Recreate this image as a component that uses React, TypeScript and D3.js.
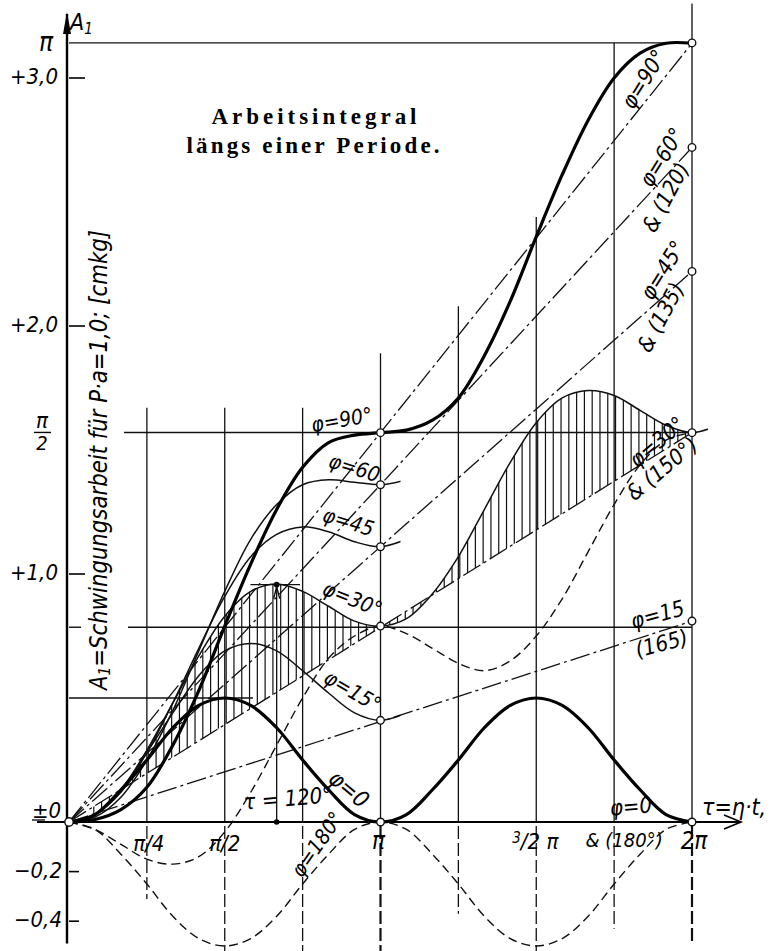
import React from 'react';
import * as d3 from 'd3';

const W = 776;
const H = 951;
const PI = Math.PI;

// curve values A1 at tau = k * 15 deg (k = 0, 1, 2 ...)
const STEP = PI / 12;
const phi90 = [0, 0.01, 0.05, 0.14, 0.31, 0.53, 0.79, 1.04, 1.26, 1.43, 1.53, 1.56, 1.57, 1.58, 1.62, 1.71, 1.88, 2.1, 2.36, 2.61, 2.83, 3.0, 3.1, 3.14, 3.14];
const phi60 = [0, 0.02, 0.1, 0.25, 0.45, 0.69, 0.93, 1.14, 1.28, 1.36, 1.38, 1.37, 1.36, 1.38];
const phi45 = [0, 0.03, 0.12, 0.28, 0.48, 0.7, 0.91, 1.07, 1.16, 1.19, 1.17, 1.13, 1.11, 1.14];
const phi30 = [0, 0.03, 0.13, 0.29, 0.48, 0.67, 0.83, 0.93, 0.96, 0.93, 0.87, 0.81, 0.79, 0.82, 0.92, 1.07, 1.26, 1.45, 1.61, 1.71, 1.74, 1.72, 1.66, 1.6, 1.57, 1.6];
const phi15 = [0, 0.03, 0.13, 0.28, 0.44, 0.59, 0.69, 0.72, 0.69, 0.61, 0.52, 0.44, 0.41, 0.44];
const phi0 = [0, 0.03, 0.13, 0.25, 0.38, 0.47, 0.5, 0.47, 0.38, 0.25, 0.13, 0.03, 0, 0.03, 0.13, 0.25, 0.38, 0.47, 0.5, 0.47, 0.38, 0.25, 0.13, 0.03, 0];
const phi150 = [0, -0.03, -0.09, -0.15, -0.17, -0.14, -0.04, 0.12, 0.31, 0.5, 0.66, 0.75, 0.79, 0.76, 0.7, 0.64, 0.61, 0.65, 0.75, 0.9, 1.09, 1.28, 1.44, 1.54, 1.57];
const phi180 = [0, -0.03, -0.13, -0.25, -0.38, -0.47, -0.5, -0.47, -0.38, -0.25, -0.13, -0.03, 0, -0.03, -0.13, -0.25, -0.38, -0.47, -0.5, -0.47, -0.38, -0.25, -0.13, -0.03, 0];

// straight mean lines (dash-dot) from the origin, value reached at tau = 2pi
const meanPhis = [90, 60, 45, 30, 15];
const meanEnds = [3.14, 2.72, 2.22, 1.57, 0.81];

// values marked with small circles at tau = pi
const atPi = [1.57, 1.36, 1.11, 0.79, 0.41, 0];

// y axis
const yTicks = [3, 2, 1, 0, -0.2, -0.4];
const yTickLabels = ['+3,0', '+2,0', '+1,0', '±0', '−0,2', '−0,4'];

// vertical construction lines
const gridTaus = [PI / 4, PI / 2, (3 * PI) / 4, PI, (5 * PI) / 4, (3 * PI) / 2, (7 * PI) / 4, 2 * PI];
const gridTops = [1.67, 1.67, 1.67, 1.89, 2.08, 2.44, PI, 3.3];
const gridBottoms = [-0.31, -0.52, -0.52, -0.52, -0.37, -0.52, -0.43, -0.48];

const LBL = "'Liberation Sans Narrow','DejaVu Sans Condensed','Liberation Sans',sans-serif";
const SERIF = "'Liberation Serif','DejaVu Serif',serif";

export default function App() {
  const x = d3.scaleLinear().domain([0, 2 * PI]).range([69, 692]);
  const y = d3.scaleLinear().domain([0, 1]).range([822, 574]);

  const curve = (vals: number[]) =>
    d3.line<number>()
      .x((_, i) => x(i * STEP))
      .y(d => y(d))
      .curve(d3.curveCatmullRom.alpha(0.5))(vals) || '';

  const meanLine = (end: number) =>
    d3.line<[number, number]>().x(d => x(d[0])).y(d => y(d[1]))([[0, 0], [2 * PI, end]]) || '';

  const mean30 = meanEnds[3];
  const hatchArea = d3.area<number>()
    .x((_, i) => x(i * STEP))
    .y0((_, i) => y((mean30 * i * STEP) / (2 * PI)))
    .y1(d => y(d))
    .curve(d3.curveCatmullRom.alpha(0.5))(phi30.slice(0, 25)) || '';
  const hatchTaus = d3.range(0.25, 2 * PI, (2 * PI) / 80);

  const thin = { fill: 'none', stroke: '#111', strokeWidth: 1.5 };
  const thick = { fill: 'none', stroke: '#000', strokeWidth: 3.2 };
  const dashDot = { fill: 'none', stroke: '#111', strokeWidth: 1.3, strokeDasharray: '20 4 3 4' };
  const dashed = { fill: 'none', stroke: '#111', strokeWidth: 1.4, strokeDasharray: '9 5' };

  const lbl = (t: string, cx: number, cy: number, rot: number, size = 21) => (
    <text
      key={t + cx + cy}
      transform={`translate(${cx},${cy}) rotate(${rot})`}
      textAnchor="middle"
      dominantBaseline="middle"
      fontFamily={LBL}
      fontStyle="italic"
      fontSize={size}
    >
      {t}
    </text>
  );

  return (
    <svg width={W} height={H} style={{ position: 'absolute', left: 0, top: 0, background: '#fff' }} fontFamily={LBL}>
      <defs>
        <clipPath id="hatch">
          <path d={hatchArea} />
        </clipPath>
        <clipPath id="stubPi">
          <rect x={0} y={0} width={x(PI) + 20} height={H} />
        </clipPath>
        <clipPath id="stub2Pi">
          <rect x={0} y={0} width={x(2 * PI) + 16} height={H} />
        </clipPath>
      </defs>
      <rect width={W} height={H} fill="#fff" />

      {/* vertical construction lines, dashed below the axis */}
      {gridTaus.map((t, i) => (
        <g key={'g' + i}>
          <line x1={x(t)} x2={x(t)} y1={y(gridTops[i])} y2={y(0)} stroke="#111" strokeWidth={1.3} />
          <line
            x1={x(t)} x2={x(t)} y1={y(0) + 4} y2={y(gridBottoms[i])}
            stroke="#111"
            strokeWidth={t === PI || t === 2 * PI ? 2.2 : 1.3}
            strokeDasharray="13 4"
          />
        </g>
      ))}

      {/* horizontal construction lines */}
      <line x1={x(0)} x2={x(2 * PI)} y1={y(PI)} y2={y(PI)} stroke="#111" strokeWidth={1.4} />
      <line x1={x(0.555)} x2={x(2 * PI)} y1={y(PI / 2)} y2={y(PI / 2)} stroke="#111" strokeWidth={1.4} />
      <line x1={x(0.595)} x2={x(2 * PI)} y1={y(PI / 4)} y2={y(PI / 4)} stroke="#111" strokeWidth={1.4} />
      <line x1={x(0)} x2={x(0) + 12} y1={y(PI / 4)} y2={y(PI / 4)} stroke="#111" strokeWidth={1.4} />
      <line x1={x(0)} x2={x(1.856)} y1={y(0.5)} y2={y(0.5)} stroke="#111" strokeWidth={1.4} />
      <line x1={x(1.83)} x2={x(2.33)} y1={y(0.957)} y2={y(0.957)} stroke="#111" strokeWidth={1.4} />

      {/* tau = 120 deg marker */}
      <line x1={x((2 * PI) / 3)} x2={x((2 * PI) / 3)} y1={y(0)} y2={y(0.957)} stroke="#111" strokeWidth={1.3} />
      <circle cx={x((2 * PI) / 3)} cy={y(0)} r={2.8} fill="#000" />
      <circle cx={x((2 * PI) / 3)} cy={y(0.957)} r={2.8} fill="#000" />
      <path
        d={`M${x((2 * PI) / 3) - 3},${y(0.957) + 14} L${x((2 * PI) / 3)},${y(0.957) + 2} L${x((2 * PI) / 3) + 3},${y(0.957) + 14}`}
        fill="none" stroke="#111" strokeWidth={1.4}
      />

      {/* hatching between phi = 30 and its mean line */}
      <g clipPath="url(#hatch)">
        {hatchTaus.map((t, i) => (
          <line key={'h' + i} x1={x(t)} x2={x(t)} y1={y(2)} y2={y(-0.2)} stroke="#111" strokeWidth={1.2} />
        ))}
      </g>

      {/* mean lines */}
      {meanPhis.map((p, i) => (
        <path key={'m' + p} d={meanLine(meanEnds[i])} {...dashDot} />
      ))}

      {/* dashed curves phi = 150 and 180 */}
      <path d={curve(phi150)} {...dashed} />
      <path d={curve(phi180)} {...dashed} />

      {/* thin curves */}
      <g clipPath="url(#stubPi)">
        <path d={curve(phi60)} {...thin} />
        <path d={curve(phi45)} {...thin} />
        <path d={curve(phi15)} {...thin} />
      </g>
      <g clipPath="url(#stub2Pi)">
        <path d={curve(phi30)} {...thin} />
      </g>

      {/* thick curves */}
      <path d={curve(phi90)} {...thick} />
      <path d={curve(phi0)} {...thick} />

      {/* axes */}
      <line x1={x(0) - 2} x2={x(0) - 2} y1={14} y2={y(-0.49)} stroke="#000" strokeWidth={2.4} />
      <path d={`M${x(0) - 2},12 L${x(0) - 6},34 L${x(0) + 2},34 Z`} fill="#000" />
      <line x1={37} x2={740} y1={y(0)} y2={y(0)} stroke="#000" strokeWidth={2.2} />
      <path d={`M724,${y(0) - 7} L741,${y(0)} L724,${y(0) + 7}`} fill="none" stroke="#000" strokeWidth={1.7} />

      {yTicks.map((v, i) => (
        <g key={'yt' + i}>
          <line x1={x(0)} x2={x(0) + (v > 0 ? 16 : 10)} y1={y(v)} y2={y(v)} stroke="#000" strokeWidth={1.6} />
          {v !== 0 && (
            <text x={v < 0 ? 62 : 58} y={y(v)} textAnchor="end" dominantBaseline="middle" fontStyle="italic" fontSize={22}>
              {yTickLabels[i]}
            </text>
          )}
        </g>
      ))}
      <text x={32} y={y(0) - 4} fontStyle="italic" fontSize={22}>{yTickLabels[3]}</text>
      <line x1={32} x2={45} y1={y(0) - 2} y2={y(0) - 2} stroke="#000" strokeWidth={1.3} />

      {/* pi labels on the y axis */}
      <text x={46} y={y(PI) + 8} textAnchor="middle" fontStyle="italic" fontSize={26}>π</text>
      <text x={42} y={y(PI / 2) - 4} textAnchor="middle" fontStyle="italic" fontSize={22}>π</text>
      <line x1={34} x2={51} y1={y(PI / 2)} y2={y(PI / 2)} stroke="#000" strokeWidth={1.4} />
      <text x={42} y={y(PI / 2) + 18} textAnchor="middle" fontStyle="italic" fontSize={20}>2</text>

      {/* axis titles */}
      <text x={70} y={30} fontStyle="italic" fontSize={23}>A<tspan fontSize={15} dy={4}>1</tspan></text>
      <text x={702} y={y(0) - 7} fontStyle="italic" fontSize={23}>τ=η·t,</text>
      <text
        transform={`translate(107,690) rotate(-90)`}
        fontStyle="italic"
        fontSize={25}
        textLength={460}
        lengthAdjust="spacingAndGlyphs"
      >
        A<tspan fontSize={16} dy={3}>1</tspan><tspan dy={-3}>=Schwingungsarbeit für P·a=1,0; [cmkg]</tspan>
      </text>

      {/* x labels */}
      <text x={x(PI / 4) + 2} y={y(0) + 29} textAnchor="middle" fontStyle="italic" fontSize={22}>π/4</text>
      <text x={x(PI / 2)} y={y(0) + 29} textAnchor="middle" fontStyle="italic" fontSize={22}>π/2</text>
      <text x={x(PI) - 2} y={y(0) + 27} textAnchor="middle" fontStyle="italic" fontSize={24}>π</text>
      <text x={x((3 * PI) / 2) - 24} y={y(0) + 27} fontStyle="italic" fontSize={22}>
        <tspan fontSize={15} dy={-6}>3</tspan><tspan dy={6}>/2 π</tspan>
      </text>
      <text x={x((7 * PI) / 4) + 10} y={y(0) + 25} textAnchor="middle" fontStyle="italic" fontSize={20}>&amp; (180°)</text>
      <text x={x(2 * PI) + 2} y={y(0) + 27} textAnchor="middle" fontStyle="italic" fontSize={24}>2π</text>

      {/* title */}
      <text x={314} y={124} textAnchor="middle" fontFamily={SERIF} fontWeight="bold" fontSize={23} textLength={205} lengthAdjust="spacing">
        Arbeitsintegral
      </text>
      <text x={313} y={153} textAnchor="middle" fontFamily={SERIF} fontWeight="bold" fontSize={23} textLength={253} lengthAdjust="spacing">
        längs einer Periode.
      </text>

      {/* curve labels */}
      {lbl('φ=90°', 342, 421, -10)}
      {lbl('φ=60', 354, 469, 17)}
      {lbl('φ=45', 348, 523, 17)}
      {lbl('φ=30°', 352, 600, 22)}
      {lbl('φ=15°', 352, 692, 30)}
      {lbl('φ=0', 348, 790, 40, 23)}
      {lbl('τ = 120°', 288, 800, -5, 22)}
      {lbl('φ=180°', 318, 845, -55)}
      {lbl('φ=90°', 645, 80, -58, 22)}
      {lbl('φ=60°', 663, 158, -58, 22)}
      {lbl('& (120)', 667, 198, -62, 22)}
      {lbl('φ=45°', 664, 271, -58, 22)}
      {lbl('& (135)', 662, 318, -62, 22)}
      {lbl('φ=30°', 658, 443, -40, 22)}
      {lbl('& (150°)', 663, 470, -40, 22)}
      {lbl('φ=15', 658, 616, -15, 22)}
      {lbl('(165)', 662, 645, -15, 22)}
      {lbl('φ=0', 631, 808, -5, 22)}

      {/* open circles */}
      {atPi.map((v, i) => (
        <circle key={'cp' + i} cx={x(PI)} cy={y(v)} r={3.8} fill="#fff" stroke="#111" strokeWidth={1.4} />
      ))}
      {[PI, ...meanEnds.slice(1), 0].map((v, i) => (
        <circle key={'c2' + i} cx={x(2 * PI)} cy={y(v)} r={3.8} fill="#fff" stroke="#111" strokeWidth={1.4} />
      ))}
      <circle cx={x(0)} cy={y(0)} r={4.2} fill="#fff" stroke="#111" strokeWidth={1.4} />
    </svg>
  );
}
